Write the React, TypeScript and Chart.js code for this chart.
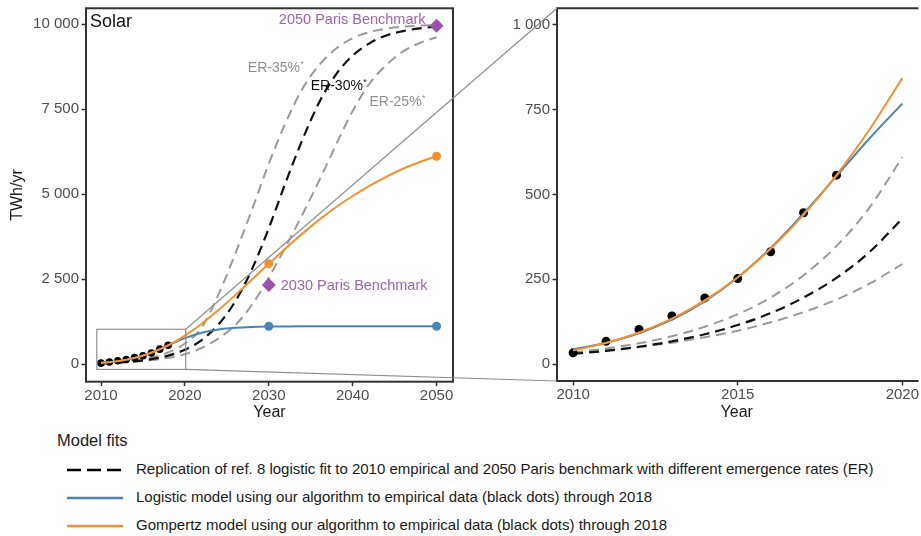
import React, { useEffect, useRef } from "react";
import { Chart, registerables } from "chart.js";

Chart.register(...registerables);

const FONT = '"Liberation Sans", Arial, Helvetica, sans-serif';

// ---------- data ----------
const empYears = [2010, 2011, 2012, 2013, 2014, 2015, 2016, 2017, 2018];
const empValues = [33, 67, 102, 142, 195, 252, 331, 446, 557];

const longYears = [2010, 2012, 2014, 2016, 2018, 2020, 2022, 2024, 2026, 2028, 2030, 2032, 2034, 2036, 2038, 2040, 2042, 2044, 2046, 2048, 2050];
const er35Long = [34, 61, 110, 196, 350, 610, 1080, 2050, 3250, 4550, 5900, 7100, 8100, 8800, 9280, 9590, 9770, 9870, 9930, 9960, 9980];
const er30Long = [30, 51, 88, 150, 254, 429, 714, 1170, 1850, 2800, 4000, 5340, 6600, 7700, 8520, 9080, 9440, 9670, 9800, 9880, 9930];
const er25Long = [32, 50, 79, 123, 190, 295, 480, 760, 1150, 1750, 2550, 3450, 4400, 5400, 6450, 7450, 8250, 8800, 9200, 9450, 9620];
const logisticLong = [43, 91, 185, 342, 554, 768, 929, 1025, 1075, 1099, 1110, 1115, 1117, 1118, 1119, 1120, 1120, 1120, 1120, 1120, 1120];
const gompertzLong = [40, 93, 188, 340, 557, 843, 1193, 1595, 2034, 2492, 2957, 3408, 3843, 4247, 4619, 4949, 5249, 5513, 5750, 5948, 6123];

const shortYears = [2010, 2011, 2012, 2013, 2014, 2015, 2016, 2017, 2018, 2019, 2020];
const er35Short = [34, 46, 61, 82, 110, 147, 196, 262, 348, 461, 610];
const er30Short = [30, 39, 51, 67, 88, 115, 150, 196, 254, 330, 429];
const er25Short = [32, 40, 50, 63, 79, 98, 123, 153, 190, 237, 295];
const logisticShort = [43, 63, 91, 131, 185, 255, 342, 444, 554, 665, 768];
const gompertzShort = [40, 62, 93, 134, 188, 256, 340, 440, 557, 691, 843];

const markerYears = [2030, 2050];
const logisticMarkers = [1120, 1120];
const gompertzMarkers = [2960, 6120];
const benchmarkYears = [2030, 2050];
const benchmarkValues = [2330, 9960];

const leftXTicks = [2010, 2020, 2030, 2040, 2050];
const leftYTicks = [0, 2500, 5000, 7500, 10000];
const rightXTicks = [2010, 2015, 2020];
const rightYTicks = [0, 250, 500, 750, 1000];

const zoomYears = [2009.5, 2020.1];
const zoomValues = [-150, 1030];

// ---------- styles ----------
const ORANGE = "#F39130";
const BLUE = "#4B82B8";
const GRAY = "#9A9A9A";
const BLACK = "#111111";
const PURPLE = "#9B52A8";
const PURPLE_TEXT = "#A262B5";

const LEFT_W = 460;
const RIGHT_X = 460;
const RIGHT_W = 461;
const CH = 430;

const pts = (xs: number[], ys: number[]) => xs.map((x, i) => ({ x, y: ys[i] }));
const fmt = (v: number) => String(v).replace(/\B(?=(\d{3})+(?!\d))/g, " ");

function curve(data: any, color: string, order: number, dashed = false, width = 2) {
  return {
    data,
    borderColor: color,
    backgroundColor: color,
    borderWidth: width,
    borderDash: dashed ? [10, 6] : [],
    pointRadius: 0,
    cubicInterpolationMode: "monotone",
    order,
  };
}
function dots(data: any, color: string, r: number, order: number, style = "circle") {
  return {
    data,
    showLine: false,
    pointStyle: style,
    pointRadius: r,
    pointBackgroundColor: color,
    pointBorderColor: color,
    pointBorderWidth: 0,
    order,
  };
}

function buildOptions(o: any) {
  return {
    responsive: false,
    animation: false,
    devicePixelRatio: 1,
    layout: { padding: o.padding },
    plugins: { legend: { display: false }, tooltip: { enabled: false } },
    scales: {
      x: {
        type: "linear",
        min: o.xMin,
        max: o.xMax,
        afterBuildTicks: (s: any) => {
          s.ticks = o.xTicks.map((v: number) => ({ value: v }));
        },
        afterFit: (s: any) => {
          s.height = o.xAxisHeight;
          s.paddingLeft = 0;
          s.paddingRight = 0;
        },
        ticks: {
          autoSkip: false,
          maxRotation: 0,
          padding: 0.5,
          color: "#4D4D4D",
          font: { family: FONT, size: 15 },
          callback: (v: any) => String(v),
        },
        grid: { display: true, drawOnChartArea: false, drawTicks: true, tickLength: 4.5, tickColor: "#333", tickWidth: 1.5 },
        border: { display: false },
        title: { display: true, text: "Year", color: "#1A1A1A", font: { family: FONT, size: 16 }, padding: { top: 0, bottom: 7.4 } },
      },
      y: {
        type: "linear",
        min: o.yMin,
        max: o.yMax,
        afterBuildTicks: (s: any) => {
          s.ticks = o.yTicks.map((v: number) => ({ value: v }));
        },
        afterFit: (s: any) => {
          s.width = o.yAxisWidth;
          s.paddingTop = 0;
          s.paddingBottom = 0;
        },
        ticks: {
          autoSkip: false,
          padding: 2.5,
          color: "#4D4D4D",
          font: { family: FONT, size: 15 },
          callback: (v: any) => fmt(v),
        },
        grid: { display: true, drawOnChartArea: false, drawTicks: true, tickLength: 4.5, tickColor: "#333", tickWidth: 1.5 },
        border: { display: false },
        title: o.yTitle
          ? { display: true, text: o.yTitle, color: "#1A1A1A", font: { family: FONT, size: 16 }, padding: { top: 8.4, bottom: 0 } }
          : { display: false },
      },
    },
  };
}

const erLabels = [
  { text: "ER-35%", year: 2027.5, value: 8715, color: "#8F8F8F" },
  { text: "ER-30%", year: 2035.0, value: 8185, color: "#111111" },
  { text: "ER-25%", year: 2042.0, value: 7715, color: "#8F8F8F" },
];

const leftDecor = {
  id: "leftDecor",
  afterDraw(chart: any) {
    const { ctx, chartArea: a, scales } = chart;
    const x = scales.x, y = scales.y;
    ctx.save();
    ctx.strokeStyle = "#333";
    ctx.lineWidth = 2;
    ctx.strokeRect(a.left, a.top, a.right - a.left, a.bottom - a.top);

    ctx.fillStyle = "#111";
    ctx.font = `18px ${FONT}`;
    ctx.textBaseline = "middle";
    ctx.textAlign = "left";
    ctx.fillText("Solar", a.left + 4, a.top + 14);

    ctx.font = `14.5px ${FONT}`;
    ctx.fillStyle = PURPLE_TEXT;
    ctx.textAlign = "right";
    ctx.fillText("2050 Paris Benchmark", x.getPixelForValue(benchmarkYears[1]) - 11, y.getPixelForValue(benchmarkValues[1]) - 6);
    ctx.textAlign = "left";
    ctx.fillText("2030 Paris Benchmark", x.getPixelForValue(benchmarkYears[0]) + 12, y.getPixelForValue(benchmarkValues[0]) + 1);

    for (const l of erLabels) {
      const px = x.getPixelForValue(l.year);
      const py = y.getPixelForValue(l.value);
      ctx.fillStyle = l.color;
      ctx.font = `14px ${FONT}`;
      ctx.textAlign = "left";
      ctx.fillText(l.text, px, py);
      const w = ctx.measureText(l.text).width;
      ctx.font = `9px ${FONT}`;
      ctx.fillText("*", px + w + 0.5, py - 3);
    }
    ctx.restore();
  },
};

const rightDecor = {
  id: "rightDecor",
  afterDraw(chart: any) {
    const { ctx, chartArea: a } = chart;
    ctx.save();
    ctx.strokeStyle = "#333";
    ctx.lineWidth = 2;
    ctx.beginPath();
    ctx.moveTo(a.right + 2, a.top);
    ctx.lineTo(a.left, a.top);
    ctx.lineTo(a.left, a.bottom);
    ctx.lineTo(a.right + 2, a.bottom);
    ctx.stroke();
    ctx.restore();
  },
};

function leftConfig(): any {
  return {
    type: "line",
    data: {
      datasets: [
        dots(pts(benchmarkYears, benchmarkValues), PURPLE, 7, 0, "rectRot"),
        dots(pts(markerYears, gompertzMarkers), ORANGE, 4.5, 1),
        dots(pts(markerYears, logisticMarkers), BLUE, 4.5, 1),
        curve(pts(longYears, gompertzLong), ORANGE, 2),
        curve(pts(longYears, logisticLong), BLUE, 3),
        dots(pts(empYears, empValues), "#000", 3.8, 4),
        curve(pts(longYears, er30Long), BLACK, 5, true, 2.2),
        curve(pts(longYears, er35Long), GRAY, 6, true),
        curve(pts(longYears, er25Long), GRAY, 6, true),
      ],
    },
    options: buildOptions({
      padding: { left: 0, right: LEFT_W - 453.5, top: 8.3, bottom: 0 },
      xMin: 2008.21, xMax: 2051.96, yMin: -512, yMax: 10470,
      xTicks: leftXTicks, yTicks: leftYTicks,
      yAxisWidth: 86, xAxisHeight: CH - 381.7,
      yTitle: "TWh/yr",
    }),
    plugins: [leftDecor],
  };
}

function rightConfig(): any {
  return {
    type: "line",
    data: {
      datasets: [
        curve(pts(shortYears, gompertzShort), ORANGE, 2),
        curve(pts(shortYears, logisticShort), BLUE, 3),
        dots(pts(empYears, empValues), "#000", 4.5, 4),
        curve(pts(shortYears, er30Short), BLACK, 5, true, 2.2),
        curve(pts(shortYears, er35Short), GRAY, 6, true),
        curve(pts(shortYears, er25Short), GRAY, 6, true),
      ],
    },
    options: buildOptions({
      padding: { left: 0, right: 0, top: 8.3, bottom: 0 },
      xMin: 2009.51, xMax: 2020.43, yMin: -50, yMax: 1049,
      xTicks: rightXTicks, yTicks: rightYTicks,
      yAxisWidth: 97, xAxisHeight: CH - 381,
      yTitle: null,
    }),
    plugins: [rightDecor],
  };
}

function drawConnectors(ov: HTMLCanvasElement, c1: any, c2: any) {
  const ctx = ov.getContext("2d");
  if (!ctx) return;
  ctx.clearRect(0, 0, ov.width, ov.height);
  const sx = c1.scales.x, sy = c1.scales.y;
  const x0 = sx.getPixelForValue(zoomYears[0]);
  const x1 = sx.getPixelForValue(zoomYears[1]);
  const yT = sy.getPixelForValue(zoomValues[1]);
  const yB = sy.getPixelForValue(zoomValues[0]);
  const a = c2.chartArea;
  ctx.save();
  ctx.strokeStyle = "#8F8F8F";
  ctx.lineWidth = 1.2;
  ctx.strokeRect(x0, yT, x1 - x0, yB - yT);
  ctx.beginPath();
  ctx.moveTo(x1, yT);
  ctx.lineTo(RIGHT_X + a.left, a.top);
  ctx.moveTo(x1, yB);
  ctx.lineTo(RIGHT_X + a.left, a.bottom);
  ctx.stroke();
  ctx.restore();
}

const legendItems = [
  { text: "Replication of ref. 8 logistic fit to 2010 empirical and 2050 Paris benchmark with different emergence rates (ER)", color: "#000", dash: "14 6", y: 470 },
  { text: "Logistic model using our algorithm to empirical data (black dots) through 2018", color: BLUE, dash: "", y: 498 },
  { text: "Gompertz model using our algorithm to empirical data (black dots) through 2018", color: ORANGE, dash: "", y: 526 },
];

export default function App() {
  const leftRef = useRef<HTMLCanvasElement>(null);
  const rightRef = useRef<HTMLCanvasElement>(null);
  const overRef = useRef<HTMLCanvasElement>(null);

  useEffect(() => {
    const c1 = new Chart(leftRef.current as HTMLCanvasElement, leftConfig());
    const c2 = new Chart(rightRef.current as HTMLCanvasElement, rightConfig());
    drawConnectors(overRef.current as HTMLCanvasElement, c1, c2);
    return () => {
      c1.destroy();
      c2.destroy();
    };
  }, []);

  return (
    <div style={{ position: "absolute", left: 0, top: 0, width: 921, height: 536, background: "#fff", overflow: "hidden" }}>
      <canvas ref={leftRef} width={LEFT_W} height={CH} style={{ position: "absolute", left: 0, top: 0, width: LEFT_W, height: CH }} />
      <canvas ref={rightRef} width={RIGHT_W} height={CH} style={{ position: "absolute", left: RIGHT_X, top: 0, width: RIGHT_W, height: CH }} />
      <canvas ref={overRef} width={921} height={CH} style={{ position: "absolute", left: 0, top: 0, width: 921, height: CH, pointerEvents: "none" }} />
      <div style={{ position: "absolute", left: 57, top: 442 - 11, height: 22, lineHeight: "22px", font: `16.5px ${FONT}`, color: "#1A1A1A", whiteSpace: "nowrap" }}>
        Model fits
      </div>
      {legendItems.map((it, i) => (
        <div key={i} style={{ position: "absolute", left: 0, top: it.y - 10, height: 20, width: 921 }}>
          <svg width={56} height={20} style={{ position: "absolute", left: 67, top: 0 }}>
            <line x1={0} y1={10} x2={56} y2={10} stroke={it.color} strokeWidth={2.6} strokeDasharray={it.dash || undefined} />
          </svg>
          <div style={{ position: "absolute", left: 136, top: 0, height: 20, lineHeight: "20px", font: `15px ${FONT}`, color: "#1A1A1A", whiteSpace: "nowrap" }}>
            {it.text}
          </div>
        </div>
      ))}
    </div>
  );
}
